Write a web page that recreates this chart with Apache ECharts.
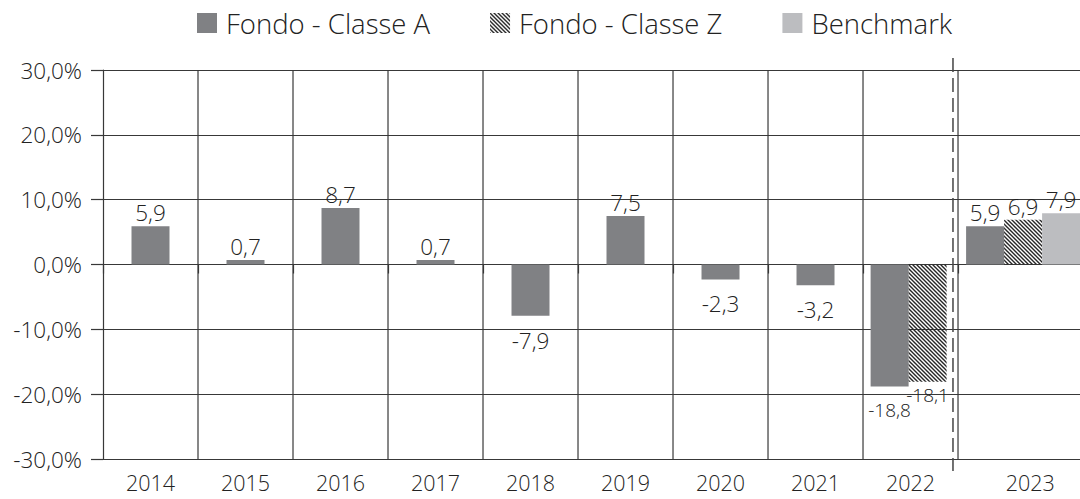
<!DOCTYPE html>
<html>
<head>
<meta charset="utf-8">
<script src="https://cdn.jsdelivr.net/npm/echarts@6/dist/echarts.min.js"></script>
<style>
  html, body { margin: 0; padding: 0; background: #ffffff; }
  #chart { width: 1080px; height: 499px; }
</style>
</head>
<body>
<div id="chart"></div>
<script>
// ---- data ----
const years = ['2014', '2015', '2016', '2017', '2018', '2019', '2020', '2021', '2022', '2023'];
const classeA = [5.9, 0.7, 8.7, 0.7, -7.9, 7.5, -2.3, -3.2, -18.8, 5.9];
const classeZ = [null, null, null, null, null, null, null, null, -18.1, 6.9];
const benchmark = [null, null, null, null, null, null, null, null, null, 7.9];
const yTicks = [-30, -20, -10, 0, 10, 20, 30];
const seriesNames = ['Fondo - Classe A', 'Fondo - Classe Z', 'Benchmark'];

// ---- layout & style ----
const FONT = '"Open Sans", "Noto Sans", sans-serif';
const TEXT = '#222222';
const LINE = '#383838';
const BAR_W = 0.4;               // bar width in cell units
const LAST_LABEL_CENTER = 9.76;  // the final (wider) column
const LAST_BAR_CENTER = 9.685;
const X_MAX = 10.284;
const DIVIDER_X = 8.947;

function labelCenter(i) { return i < years.length - 1 ? i + 0.5 : LAST_LABEL_CENTER; }
function barCenter(i) {
  if (i < years.length - 1) return i === years.length - 2 ? i + 0.48 : i + 0.5;
  return LAST_BAR_CENTER;
}
function fmt(v) { return v.toFixed(1).replace('.', ','); }

// diagonal hatch tile for Classe Z
function hatchTile() {
  const c = document.createElement('canvas');
  c.width = 4; c.height = 4;
  const g = c.getContext('2d');
  g.strokeStyle = '#262626';
  g.lineWidth = 1.4;
  g.beginPath();
  g.moveTo(-1, -1); g.lineTo(5, 5);
  g.moveTo(-1, 3); g.lineTo(1, 5);
  g.moveTo(3, -1); g.lineTo(5, 1);
  g.stroke();
  return c;
}
const hatch = { image: hatchTile(), repeat: 'repeat' };
const colors = ['#808184', hatch, '#bcbdc0'];

// label tweaks for the crowded 2022 pair
const labelTweaks = {
  '2022': { fontSize: 19, negGap: [14, 4] }
};

const allSeries = [classeA, classeZ, benchmark];
// slot of every bar inside its year group
function buildData(s) {
  const out = [];
  years.forEach((y, i) => {
    const v = allSeries[s][i];
    if (v === null) return;
    const present = allSeries.map((arr, k) => arr[i] !== null ? k : -1).filter(k => k >= 0);
    out.push([i, v, present.indexOf(s), present.length]);
  });
  return out;
}

function makeBarSeries(s) {
  return {
    name: seriesNames[s],
    type: 'custom',
    z: 3,
    itemStyle: { color: colors[s] },
    encode: { x: 0, y: 1 },
    data: buildData(s),
    renderItem: function (params, api) {
      const i = api.value(0), v = api.value(1), slot = api.value(2), n = api.value(3);
      const cx = barCenter(i) + (slot - (n - 1) / 2) * BAR_W;
      const p0 = api.coord([cx - BAR_W / 2, 0]);
      const p1 = api.coord([cx + BAR_W / 2, v]);
      const top = Math.min(p0[1], p1[1]);
      const h = Math.abs(p1[1] - p0[1]);
      const tw = labelTweaks[years[i]] || {};
      const fs = tw.fontSize || 22.5;
      let ly, vAlign;
      if (v >= 0) { ly = p1[1] - 2; vAlign = 'bottom'; }
      else {
        const gap = tw.negGap ? tw.negGap[slot] : 13;
        ly = p1[1] + gap; vAlign = 'top';
      }
      return {
        type: 'group',
        children: [
          { type: 'rect', shape: { x: p0[0], y: top, width: p1[0] - p0[0], height: h },
            style: { fill: colors[s] } },
          { type: 'text', style: { text: fmt(v), x: (p0[0] + p1[0]) / 2, y: ly,
            align: 'center', verticalAlign: vAlign, fill: TEXT,
            fontSize: fs, fontFamily: FONT, fontWeight: 300 } }
        ]
      };
    }
  };
}

// vertical column separators
const boundaries = years.slice(1).map((y, i) => i + 1);
const gridSeries = {
  type: 'custom',
  silent: true,
  z: 1,
  data: boundaries.map(b => [b, 0]),
  encode: { x: 0, y: 1 },
  renderItem: function (params, api) {
    const b = api.value(0);
    const a = api.coord([b, yTicks[yTicks.length - 1]]);
    const z = api.coord([b, yTicks[0]]);
    return { type: 'line', shape: { x1: a[0], y1: a[1], x2: z[0], y2: z[1] },
      style: { stroke: LINE, lineWidth: 1.2 } };
  }
};
// dashed divider before the latest year
const dividerSeries = {
  type: 'custom',
  silent: true,
  z: 1,
  data: [[DIVIDER_X, 0]],
  encode: { x: 0, y: 1 },
  renderItem: function (params, api) {
    const a = api.coord([api.value(0), yTicks[yTicks.length - 1]]);
    const z = api.coord([api.value(0), yTicks[0]]);
    return { type: 'line', shape: { x1: a[0], y1: a[1] - 12, x2: z[0], y2: z[1] + 12 },
      style: { stroke: '#444', lineWidth: 1.5, lineDash: [14, 6] } };
  }
};

const chart = echarts.init(document.getElementById('chart'), null, { renderer: 'svg' });
chart.setOption({
  animation: false,
  backgroundColor: '#ffffff',
  textStyle: { fontFamily: FONT },
  legend: {
    top: 9, left: 197,
    data: seriesNames,
    icon: 'rect',
    itemWidth: 20, itemHeight: 20, itemGap: 60,
    padding: 0,
    textStyle: { fontSize: 27.5, color: TEXT, fontFamily: FONT, fontWeight: 300, padding: [0, 0, 0, 4] },
    selectedMode: false
  },
  grid: { left: 103, right: 0, top: 70, bottom: 40, containLabel: false },
  xAxis: {
    type: 'value', min: 0, max: X_MAX,
    axisLine: { show: false },
    splitLine: { show: false },
    axisTick: { show: true, length: 9, customValues: [0].concat(boundaries), lineStyle: { color: LINE, width: 1.2 } },
    axisLabel: {
      customValues: years.map((y, i) => labelCenter(i)),
      formatter: function (v) {
        let best = 0;
        years.forEach((y, i) => { if (Math.abs(labelCenter(i) - v) < Math.abs(labelCenter(best) - v)) best = i; });
        return years[best];
      },
      fontSize: 21.5, lineHeight: 21, color: TEXT, fontFamily: FONT, fontWeight: 300, margin: 13
    }
  },
  yAxis: {
    type: 'value', min: -30, max: 30, interval: 10,
    axisLine: { show: true, lineStyle: { color: LINE, width: 1.2 } },
    axisTick: { show: true, length: 12, lineStyle: { color: LINE, width: 1.2 } },
    splitLine: { show: true, lineStyle: { color: LINE, width: 1.2 } },
    axisLabel: { formatter: v => fmt(v) + '%', fontSize: 22.5, color: TEXT, fontFamily: FONT, fontWeight: 300, margin: 21 }
  },
  series: [gridSeries, dividerSeries, makeBarSeries(0), makeBarSeries(1), makeBarSeries(2)]
});
</script>
</body>
</html>
